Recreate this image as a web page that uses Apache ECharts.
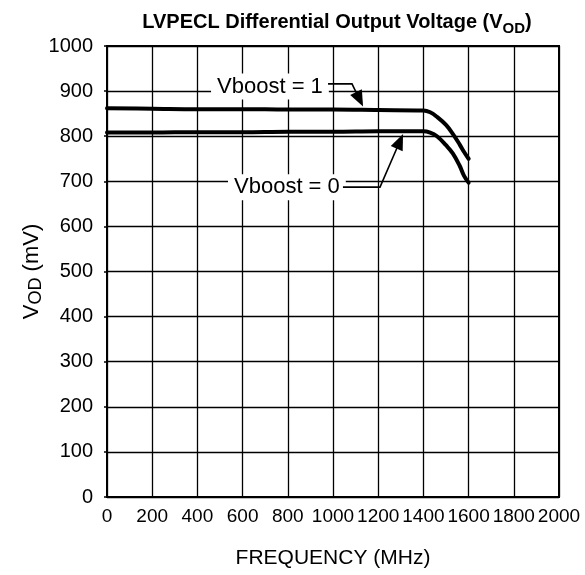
<!DOCTYPE html>
<html>
<head>
<meta charset="utf-8">
<script src="https://cdn.jsdelivr.net/npm/echarts@6/dist/echarts.min.js"></script>
<style>
  html, body { margin: 0; padding: 0; background: #fff; }
  #main { width: 585px; height: 575px; }
</style>
</head>
<body>
<div id="main"></div>
<script>
// frequency (MHz) / VOD (mV)
var freqBoost1 = [0, 200, 400, 600, 800, 1000, 1200, 1400, 1430, 1460, 1500, 1530, 1560, 1580, 1600];
var vodBoost1  = [862, 861, 860, 860, 859, 859, 858, 857, 853, 843, 825, 805, 782, 765, 750];
var freqBoost0 = [0, 200, 400, 600, 800, 1000, 1200, 1400, 1430, 1460, 1500, 1530, 1560, 1580, 1600];
var vodBoost0  = [808, 808, 809, 809, 810, 810, 811, 811, 808, 800, 780, 762, 735, 712, 697];

// callouts: label anchor, leader polyline (data coords), last point = arrow tip
var label1 = { text: 'Vboost = 1', at: [721, 910] };
var leader1 = [[978, 916], [1084, 916], [1133, 866]];
var label0 = { text: 'Vboost = 0', at: [796, 687] };
var leader0 = [[1044, 687], [1208, 687], [1310, 805]];

var FONT = '"Liberation Sans", Arial, sans-serif';

function toPairs(xs, ys) {
  var out = [];
  for (var i = 0; i < xs.length; i++) out.push([xs[i], ys[i]]);
  return out;
}

var myChart = echarts.init(document.getElementById('main'));

var option = {
  animation: false,
  backgroundColor: '#fff',
  title: {
    text: '{a|LVPECL Differential Output Voltage (V}{s|OD}{a|)}',
    left: 332,
    textAlign: 'center',
    top: 1,
    textStyle: {
      rich: {
        a: { fontFamily: FONT, fontWeight: 'bold', fontSize: 20, color: '#000', verticalAlign: 'bottom', lineHeight: 26 },
        s: { fontFamily: FONT, fontWeight: 'bold', fontSize: 15, color: '#000', verticalAlign: 'bottom', lineHeight: 18, padding: [0, 0, -4, 0] }
      }
    }
  },
  grid: {
    left: 107, top: 46, width: 452, height: 451,
    show: true, borderColor: '#000', borderWidth: 2, backgroundColor: '#fff'
  },
  xAxis: {
    type: 'value',
    min: 0, max: 2000, interval: 200,
    name: 'FREQUENCY (MHz)',
    nameLocation: 'middle',
    nameGap: 51,
    nameTextStyle: { fontFamily: FONT, fontSize: 21, color: '#000' },
    axisLine: { lineStyle: { color: '#000', width: 2 } },
    axisTick: { show: false },
    axisLabel: {
      fontFamily: FONT, fontSize: 19, color: '#000', margin: 10,
      formatter: function (v) { return String(v); }
    },
    splitLine: { lineStyle: { color: '#000', width: 1.3 } }
  },
  yAxis: {
    type: 'value',
    min: 0, max: 1000, interval: 100,
    name: '{a|V}{s|OD}{a| (mV)}',
    nameLocation: 'middle',
    nameGap: 62,
    nameMoveOverlap: false,
    nameRotate: 90,
    nameTextStyle: {
      rich: {
        a: { fontFamily: FONT, fontSize: 22, color: '#000' },
        s: { fontFamily: FONT, fontSize: 18, color: '#000', padding: [8, 0, 0, 0] }
      }
    },
    axisLine: { lineStyle: { color: '#000', width: 2 } },
    axisTick: { show: true, length: 3, lineStyle: { color: '#000', width: 1.5 } },
    axisLabel: {
      fontFamily: FONT, fontSize: 20, color: '#000', margin: 14,
      formatter: function (v) { return String(v); }
    },
    splitLine: { lineStyle: { color: '#000', width: 1.3 } }
  },
  series: [
    {
      name: 'Vboost = 1',
      type: 'line',
      data: toPairs(freqBoost1, vodBoost1),
      smooth: 0.4,
      showSymbol: false,
      lineStyle: { color: '#000', width: 4, cap: 'round' },
      z: 5
    },
    {
      name: 'Vboost = 0',
      type: 'line',
      data: toPairs(freqBoost0, vodBoost0),
      smooth: 0.4,
      showSymbol: false,
      lineStyle: { color: '#000', width: 4, cap: 'round' },
      z: 5
    }
  ]
};

myChart.setOption(option);

// white-boxed callout labels
function labelGraphic(lab) {
  var p = myChart.convertToPixel({ gridIndex: 0 }, lab.at);
  return {
    type: 'text',
    x: p[0], y: p[1],
    z: 10,
    style: {
      text: lab.text,
      fontFamily: FONT,
      fontSize: 22,
      fill: '#000',
      align: 'center',
      verticalAlign: 'middle',
      backgroundColor: '#fff',
      padding: [2, 6]
    }
  };
}

// leader line + filled arrowhead at the last point
function leaderGraphic(coords) {
  var pts = coords.map(function (c) { return myChart.convertToPixel({ gridIndex: 0 }, c); });
  var tip = pts[pts.length - 1], prev = pts[pts.length - 2];
  var dx = tip[0] - prev[0], dy = tip[1] - prev[1];
  var len = Math.sqrt(dx * dx + dy * dy);
  var ux = dx / len, uy = dy / len;
  var headLen = 16, headW = 6.5;
  var bx = tip[0] - ux * headLen, by = tip[1] - uy * headLen;
  var linePts = pts.slice(0, -1).concat([[bx + ux * 2, by + uy * 2]]);
  return [
    {
      type: 'polyline', z: 11,
      shape: { points: linePts },
      style: { stroke: '#000', lineWidth: 1.6, fill: null }
    },
    {
      type: 'polygon', z: 11,
      shape: { points: [tip, [bx - uy * headW, by + ux * headW], [bx + uy * headW, by - ux * headW]] },
      style: { fill: '#000', stroke: null }
    }
  ];
}

myChart.setOption({
  graphic: [labelGraphic(label1), labelGraphic(label0)]
    .concat(leaderGraphic(leader1))
    .concat(leaderGraphic(leader0))
});
window.onresize = myChart.resize;
</script>
</body>
</html>
